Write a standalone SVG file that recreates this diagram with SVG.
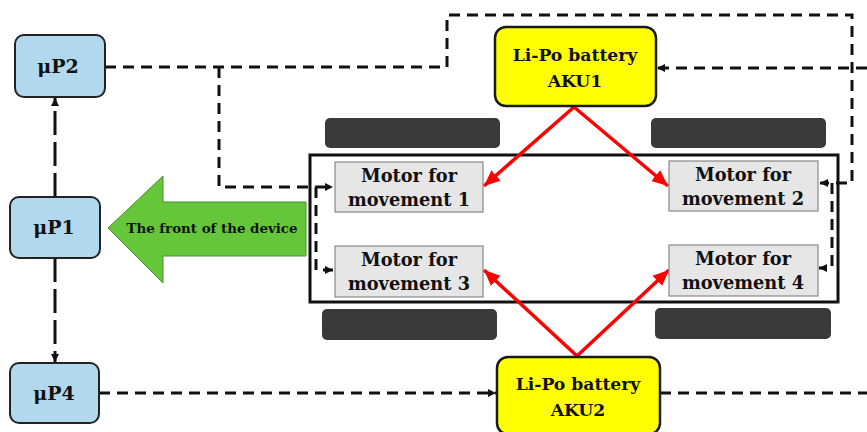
<svg xmlns="http://www.w3.org/2000/svg" width="867" height="432" viewBox="0 0 867 432">
<style>
.t{font-family:"DejaVu Serif","Liberation Serif",serif;font-weight:bold;fill:#111;text-anchor:middle}
.up{fill:#b2d8ee;stroke:#222;stroke-width:2}
.bat{fill:#ffff00;stroke:#1a1a1a;stroke-width:2.5}
.mot{fill:#e6e6e6;stroke:#888;stroke-width:1.2}
.wh{fill:#3a3a3a}
.d{fill:none;stroke:#111;stroke-width:3;stroke-dasharray:11 7}
.dl{fill:none;stroke:#111;stroke-width:3;stroke-dasharray:24 7}
.r{fill:none;stroke:#ff0000;stroke-width:3.5}
</style>
<defs>
<marker id="ab" markerUnits="userSpaceOnUse" markerWidth="10" markerHeight="10" refX="8" refY="5" orient="auto">
<path d="M0,1 L8,5 L0,9 Z" fill="#111"/>
</marker>
<marker id="ar" markerUnits="userSpaceOnUse" markerWidth="18" markerHeight="16" refX="16" refY="8" orient="auto">
<path d="M0,1 L16,8 L0,15 Z" fill="#ff0000"/>
</marker>
</defs>
<rect width="867" height="432" fill="#fff"/>

<g id="wheels">
<rect class="wh" x="325" y="118" width="175" height="30" rx="5"/>
<rect class="wh" x="651" y="118" width="175" height="30" rx="5"/>
<rect class="wh" x="322" y="309" width="175" height="31" rx="5"/>
<rect class="wh" x="655" y="308" width="176" height="31" rx="5"/>
</g>

<g id="body">
<rect x="310" y="155" width="528" height="147" fill="none" stroke="#111" stroke-width="3"/>
</g>

<g id="connectors">
<path class="d" d="M105,67 H447 V15 H852 V183 H820" marker-end="url(#ab)"/>
<path class="d" d="M219,67 V187 H333" marker-end="url(#ab)"/>
<path class="d" d="M316,187 V270 H333" marker-end="url(#ab)"/>
<path class="d" d="M832,183 V268 H819" marker-end="url(#ab)"/>
<path class="d" d="M867,68 H657" marker-end="url(#ab)"/>
<path class="d" d="M99,393 H496" marker-end="url(#ab)"/>
<path class="d" d="M660,393 H867"/>
<path class="dl" d="M55,197 V98" marker-end="url(#ab)"/>
<path class="dl" d="M55,258 V362" marker-end="url(#ab)"/>
<path class="r" d="M574,107 L484,186" marker-end="url(#ar)"/>
<path class="r" d="M574,107 L668,186" marker-end="url(#ar)"/>
<path class="r" d="M577,356 L484,270" marker-end="url(#ar)"/>
<path class="r" d="M577,356 L669,270" marker-end="url(#ar)"/>
</g>

<g id="uP2">
<rect class="up" x="15" y="35" width="90" height="62" rx="9"/>
<text class="t" x="58" y="73" font-size="19">μP2</text>
</g>
<g id="uP1">
<rect class="up" x="10" y="197" width="90" height="61" rx="9"/>
<text class="t" x="54" y="234" font-size="19">μP1</text>
</g>
<g id="uP4">
<rect class="up" x="10" y="363" width="89" height="60" rx="9"/>
<text class="t" x="54" y="400" font-size="19">μP4</text>
</g>

<g id="front">
<path d="M108,228 L163,176 L163,202 L306,202 L306,256 L163,256 L163,283 Z" fill="#66c63a" stroke="#4b8f2c" stroke-width="1"/>
<text class="t" x="212" y="233" font-size="13.4">The front of the device</text>
</g>

<g id="AKU1">
<rect class="bat" x="495" y="27" width="161" height="79" rx="11"/>
<text class="t" x="575" y="61" font-size="17.2">Li-Po battery</text>
<text class="t" x="575" y="87" font-size="17.2">AKU1</text>
</g>
<g id="AKU2">
<rect class="bat" x="497" y="357" width="163" height="77" rx="11"/>
<text class="t" x="578" y="390" font-size="17.2">Li-Po battery</text>
<text class="t" x="578" y="416" font-size="17.2">AKU2</text>
</g>

<g id="motor1">
<rect class="mot" x="335" y="162" width="148" height="50"/>
<text class="t" x="409" y="182" font-size="17.8">Motor for</text>
<text class="t" x="409" y="206" font-size="17.8">movement 1</text>
</g>
<g id="motor2">
<rect class="mot" x="669" y="161" width="149" height="50"/>
<text class="t" x="743" y="181" font-size="17.8">Motor for</text>
<text class="t" x="743" y="205" font-size="17.8">movement 2</text>
</g>
<g id="motor3">
<rect class="mot" x="335" y="246" width="148" height="51"/>
<text class="t" x="409" y="266" font-size="17.8">Motor for</text>
<text class="t" x="409" y="290" font-size="17.8">movement 3</text>
</g>
<g id="motor4">
<rect class="mot" x="669" y="245" width="149" height="51"/>
<text class="t" x="743" y="265" font-size="17.8">Motor for</text>
<text class="t" x="743" y="289" font-size="17.8">movement 4</text>
</g>
</svg>
